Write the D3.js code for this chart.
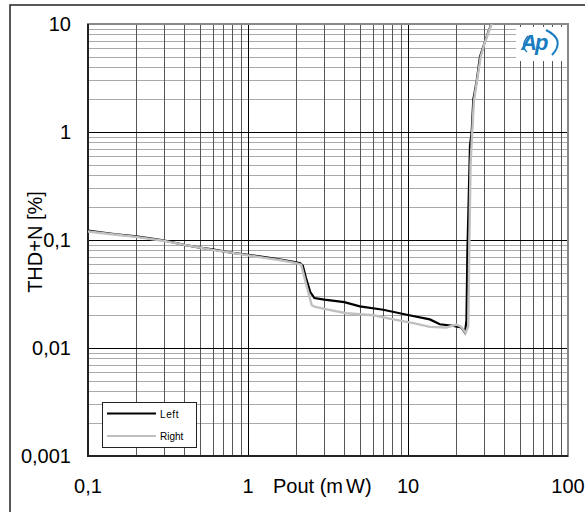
<!DOCTYPE html>
<html><head><meta charset="utf-8">
<script src="https://cdn.jsdelivr.net/npm/d3@7/dist/d3.min.js"></script>
<style>body{margin:0;background:#fff}svg{display:block;font-family:"Liberation Sans",Arial,sans-serif}</style>
</head><body><svg id="c" width="585" height="512"></svg>
<script>
const xTicks = [0.1, 1, 10, 100];
const xTickLabels = ["0,1", "1", "10", "100"];
const yTicks = [0.001, 0.01, 0.1, 1, 10];
const yTickLabels = ["0,001", "0,01", "0,1", "1", "10"];
const seriesNames = ["Left", "Right"];
const leftP = [0.1,0.12,0.15,0.2,0.25,0.3,0.4,0.5,0.6,0.8,1.0,1.3,1.6,2.0,2.12,2.2,2.3,2.45,2.6,3.0,4.0,5.0,7.0,10,13.7,15.8,19.2,21.5,22.7,23.2,23.5,24.0,24.4,25.0,25.6,26.2,26.9,28.2,29.6,31.8,33.6];
const leftV = [0.122,0.118,0.113,0.108,0.103,0.099,0.09,0.085,0.082,0.076,0.073,0.069,0.066,0.062,0.061,0.058,0.045,0.033,0.029,0.028,0.0266,0.0243,0.0226,0.0202,0.0184,0.0166,0.016,0.0155,0.0139,0.018,0.076,0.27,0.75,1.0,2.0,2.4,3.0,5.0,6.2,8.5,10.5];
const rightP = [0.1,0.15,0.2,0.3,0.4,0.5,0.6,0.8,1.0,1.3,1.6,2.0,2.15,2.3,2.5,2.6,3.1,4.14,6.07,8.1,10.8,13.7,17.4,20.1,21.5,22.9,23.8,24.2,24.6,25.2,25.8,26.5,27.2,28.5,30.0,32.2,33.8];
const rightV = [0.12,0.112,0.107,0.098,0.09,0.085,0.081,0.076,0.072,0.068,0.065,0.061,0.059,0.04,0.025,0.0241,0.0228,0.021,0.0201,0.0184,0.017,0.0157,0.0155,0.0165,0.0157,0.0138,0.0158,0.1,0.5,1.0,1.9,2.5,3.2,5.0,6.5,8.8,10.5];

const svg = d3.select("#c");
const L = 88, R = 568, T = 24, B = 456;
const x = d3.scaleLog().domain([0.1, 100]).range([L, R]);
const y = d3.scaleLog().domain([0.001, 10]).range([B, T]);

// outer frame
svg.append("path").attr("d", "M10,520 L10,5 L590,5").attr("fill","none").attr("stroke","#222").attr("stroke-width",1.5);

// minor grid
const minorX = [], minorY = [];
for (let d = 0.1; d < 100; d *= 10) for (let k = 2; k <= 9; k++) minorX.push(d * k);
for (let d = 0.001; d < 10; d *= 10) for (let k = 2; k <= 9; k++) minorY.push(d * k);
const g = svg.append("g");
g.selectAll(".hy").data(minorY).join("line").attr("x1", L).attr("x2", R)
  .attr("y1", d => Math.round(y(d)) + 0.5).attr("y2", d => Math.round(y(d)) + 0.5).attr("stroke", "#aaa").attr("stroke-width", 1);
g.selectAll(".vx").data(minorX).join("line").attr("y1", T).attr("y2", B)
  .attr("x1", d => Math.round(x(d)) + 0.5).attr("x2", d => Math.round(x(d)) + 0.5).attr("stroke", "#555").attr("stroke-width", 1);
// major grid
g.selectAll(".my").data(yTicks).join("line").attr("x1", L).attr("x2", R)
  .attr("y1", d => Math.round(y(d)) + 0.5).attr("y2", d => Math.round(y(d)) + 0.5).attr("stroke", "#000").attr("stroke-width", 1);
g.selectAll(".mx").data(xTicks).join("line").attr("y1", T).attr("y2", B)
  .attr("x1", d => Math.round(x(d)) + 0.5).attr("x2", d => Math.round(x(d)) + 0.5).attr("stroke", "#000").attr("stroke-width", 1);

// plot border
svg.append("rect").attr("x", L).attr("y", T).attr("width", R - L).attr("height", B - T)
  .attr("fill", "none").attr("stroke", "#888").attr("stroke-width", 2);
svg.append("path").attr("d", `M${L},${T} L${L},${B} L${R},${B}`).attr("fill","none").attr("stroke","#222").attr("stroke-width",2);

// logo
const lg = svg.append("g");
lg.append("rect").attr("x", 516).attr("y", 27).attr("width", 51).attr("height", 34).attr("fill", "#fff");
lg.append("path").attr("d", "M527,52 Q520,46 528,36").attr("fill", "none").attr("stroke", "#1a7dc0").attr("stroke-width", 1.5);
lg.append("text").attr("x", 521).attr("y", 50).attr("font-size", 22).attr("font-weight", "bold").attr("font-style", "italic")
  .attr("fill", "#1a7dc0").attr("letter-spacing", -2).text("Ap");
lg.append("path").attr("d", "M546,30 Q566,40 552,55").attr("fill", "none").attr("stroke", "#1a7dc0").attr("stroke-width", 2);

// curves
svg.append("clipPath").attr("id", "cp").append("rect").attr("x", L).attr("y", T).attr("width", R - L).attr("height", B - T);
const line = d3.line().x(d => x(d[0])).y(d => y(d[1]));
const leftData = leftP.map((p, i) => [p, leftV[i]]);
const rightData = rightP.map((p, i) => [p, rightV[i]]);
const cg = svg.append("g").attr("clip-path", "url(#cp)");
cg.append("path").datum(leftData).attr("d", line).attr("fill", "none").attr("stroke", "#000").attr("stroke-width", 2.2);
cg.append("path").datum(rightData).attr("d", line).attr("fill", "none").attr("stroke", "#c0c0c0").attr("stroke-width", 2.4);

// tick labels
svg.selectAll(".yl").data(yTicks).join("text").attr("x", 71).attr("y", d => y(d) + 7)
  .attr("text-anchor", "end").attr("font-size", 20).attr("fill", "#000").text((d, i) => yTickLabels[i]);
svg.selectAll(".xl").data(xTicks).join("text").attr("x", d => x(d)).attr("y", 493)
  .attr("text-anchor", "middle").attr("font-size", 20).attr("fill", "#000").text((d, i) => xTickLabels[i]);

// axis titles
const xt = svg.append("text").attr("x", 273).attr("y", 493).attr("font-size", 20);
xt.append("tspan").text("Pout (m");
xt.append("tspan").attr("dx", 3).text("W)");
svg.append("text").attr("transform", "translate(42,242) rotate(-90)").attr("font-size", 20)
  .attr("text-anchor", "middle").text("THD+N [%]");

// legend
const leg = svg.append("g");
leg.append("rect").attr("x", 102.5).attr("y", 402.5).attr("width", 94).attr("height", 45).attr("fill", "#fff").attr("stroke", "#222").attr("stroke-width", 1);
const legColors = ["#000", "#c0c0c0"], legY = [413.5, 436];
seriesNames.forEach((n, i) => {
  leg.append("line").attr("x1", 107).attr("x2", 156).attr("y1", legY[i]).attr("y2", legY[i])
    .attr("stroke", legColors[i]).attr("stroke-width", i ? 2 : 2.2);
  leg.append("text").attr("x", 160).attr("y", legY[i] + 4).attr("font-size", 10).attr("fill", "#000")
    .attr("letter-spacing", i ? 0 : 0.6).text(n);
});
</script></body></html>
